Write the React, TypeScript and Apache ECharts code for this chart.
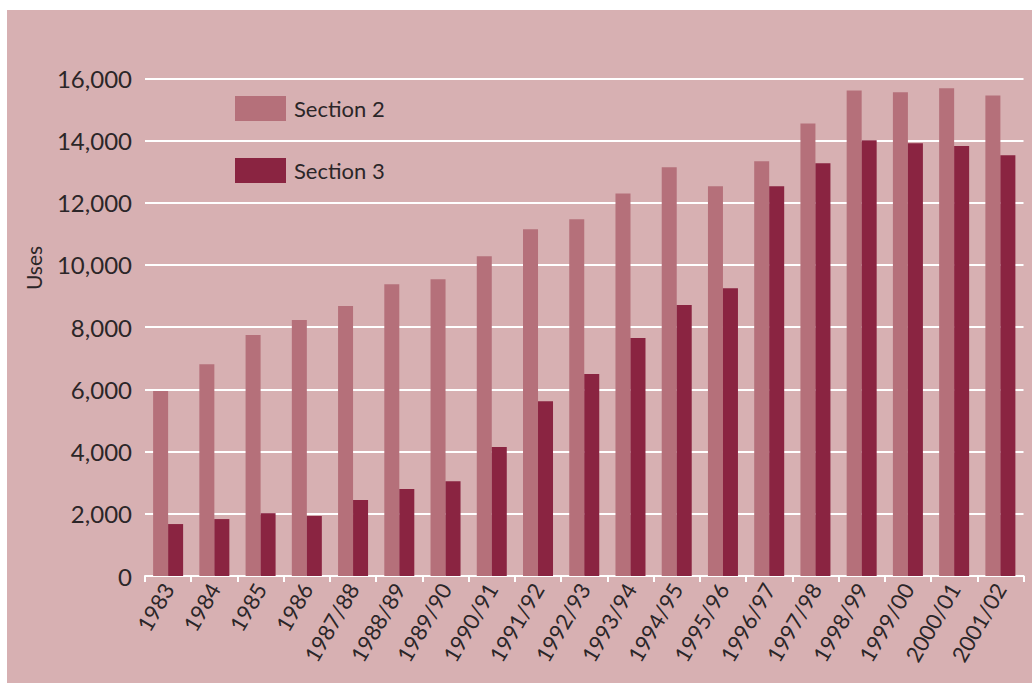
import React, { useEffect, useRef } from "react";
import * as echarts from "echarts";

const categories = [
  "1983", "1984", "1985", "1986", "1987/88", "1988/89", "1989/90", "1990/91",
  "1991/92", "1992/93", "1993/94", "1994/95", "1995/96", "1996/97", "1997/98",
  "1998/99", "1999/00", "2000/01", "2001/02",
];

const section2 = [
  5950, 6810, 7750, 8230, 8680, 9380, 9540, 10280, 11150, 11470, 12300,
  13140, 12530, 13330, 14550, 15610, 15550, 15680, 15450,
];

const section3 = [
  1670, 1830, 2020, 1930, 2440, 2800, 3050, 4150, 5620, 6490, 7650,
  8710, 9250, 12530, 13270, 14010, 13910, 13820, 13530,
];

const yTicks = { min: 0, max: 16000, interval: 2000 };

const FONT = "Lato, 'Noto Sans', sans-serif";
const TEXT = "#2b2628";
const PANEL = "#d7b0b2";
const LIGHT = "#b5707a";
const DARK = "#8a2441";

export default function App() {
  const ref = useRef<HTMLDivElement>(null);

  useEffect(() => {
    if (!ref.current) return;
    const chart = echarts.init(ref.current, null, { renderer: "svg" });
    chart.setOption({
      animation: false,
      backgroundColor: PANEL,
      textStyle: { fontFamily: FONT },
      grid: { left: 138, right: 8.5, top: 68.3, bottom: 107, containLabel: false },
      legend: {
        orient: "vertical",
        left: 223,
        top: 81,
        itemWidth: 51,
        itemHeight: 25,
        itemGap: 37,
        icon: "rect",
        textStyle: { fontFamily: FONT, fontSize: 22, color: TEXT, padding: [0, 0, 0, 3] },
        data: ["Section 2", "Section 3"],
      },
      graphic: [
        {
          type: "text",
          x: 26,
          y: 258,
          rotation: Math.PI / 2,
          style: {
            text: "Uses",
            fontFamily: FONT,
            fontSize: 21,
            fill: TEXT,
            align: "center",
            verticalAlign: "middle",
          },
        },
      ],
      xAxis: {
        type: "category",
        data: categories,
        axisLine: { lineStyle: { color: "#ffffff", width: 2 } },
        axisTick: { show: true, length: 6, lineStyle: { color: "#ffffff", width: 2 } },
        axisLabel: {
          rotate: 60,
          margin: 9,
          fontSize: 22,
          color: TEXT,
          fontFamily: FONT,
        },
      },
      yAxis: {
        type: "value",
        min: yTicks.min,
        max: yTicks.max,
        interval: yTicks.interval,
        axisLine: { show: false },
        axisTick: { show: false },
        axisLabel: {
          margin: 13,
          fontSize: 24,
          color: TEXT,
          fontFamily: FONT,
          formatter: (v: number) => v.toLocaleString("en-US"),
        },
        splitLine: { lineStyle: { color: "#ffffff", width: 2 } },
      },
      series: [
        {
          name: "Section 2",
          type: "bar",
          data: section2,
          barWidth: 15,
          barGap: "0%",
          itemStyle: { color: LIGHT },
        },
        {
          name: "Section 3",
          type: "bar",
          data: section3,
          barWidth: 15,
          barGap: "0%",
          itemStyle: { color: DARK },
        },
      ],
    });
    return () => chart.dispose();
  }, []);

  return (
    <div
      style={{
        position: "fixed",
        left: 0,
        top: 0,
        width: 1032,
        height: 683,
        background: "#ffffff",
      }}
    >
      <div
        ref={ref}
        style={{ position: "absolute", left: 7, top: 10, width: 1025, height: 673 }}
      />
    </div>
  );
}
